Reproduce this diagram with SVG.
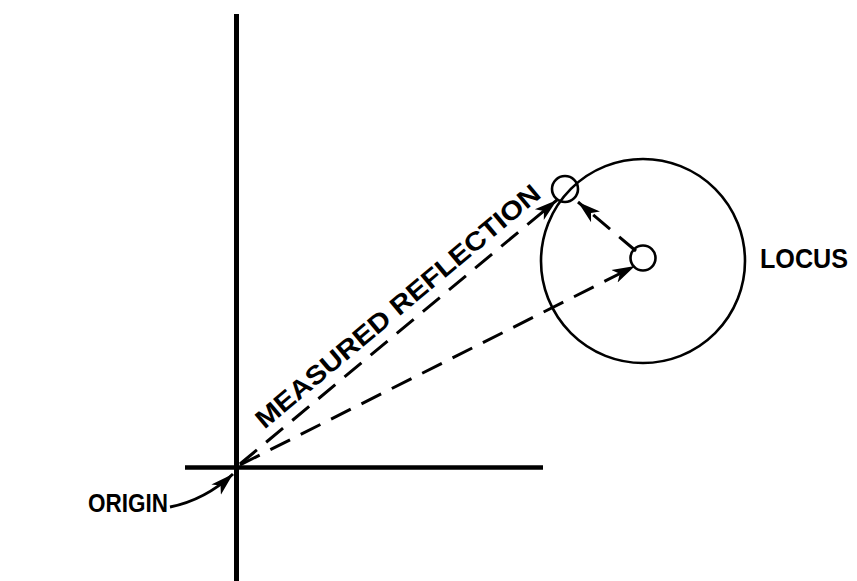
<svg xmlns="http://www.w3.org/2000/svg" width="857" height="581" viewBox="0 0 857 581">
<style>
.axis{stroke:#000;fill:none}
.dash{stroke:#000;stroke-width:3;fill:none;stroke-dasharray:22 12}
.ring{stroke:#000;stroke-width:2.6;fill:none}
.lbl{font-family:"Liberation Sans",Arial,sans-serif;font-weight:bold;fill:#000}
</style>
<defs>
<marker id="ah" markerWidth="26" markerHeight="16" refX="23" refY="8" orient="auto" markerUnits="userSpaceOnUse">
<path d="M0,1 L23,8 L0,15 L6,8 Z" fill="#000"/>
</marker>
</defs>
<rect width="857" height="581" fill="#fff"/>
<g id="axes">
<line class="axis" x1="236.5" y1="14" x2="236.5" y2="581" stroke-width="5"/>
<line class="axis" x1="185" y1="467.5" x2="543" y2="467.5" stroke-width="4.5"/>
</g>
<g id="locus">
<circle class="ring" cx="643" cy="261" r="102"/>
<text class="lbl" x="760" y="268" font-size="27" textLength="88" lengthAdjust="spacingAndGlyphs">LOCUS</text>
</g>
<g id="center">
<circle class="ring" cx="643" cy="258" r="12.5"/>
</g>
<g id="measured">
<circle class="ring" cx="565" cy="189" r="13"/>
</g>
<g id="origin">
<text class="lbl" x="88" y="512" font-size="25" textLength="80" lengthAdjust="spacingAndGlyphs">ORIGIN</text>
</g>
<g id="connectors">
<line class="dash" x1="240" y1="464" x2="557" y2="200" marker-end="url(#ah)"/>
<line class="dash" x1="240" y1="465" x2="635" y2="266" marker-end="url(#ah)"/>
<line class="dash" x1="636" y1="251" x2="578" y2="202" marker-end="url(#ah)"/>
<path d="M170 507 Q205 500 233 474" stroke="#000" stroke-width="3" fill="none" marker-end="url(#ah)"/>
</g>
<g id="measured-label">
<text class="lbl" transform="translate(237,467) rotate(-40)" x="45" y="-11" font-size="26" textLength="363" lengthAdjust="spacingAndGlyphs">MEASURED REFLECTION</text>
</g>
</svg>
